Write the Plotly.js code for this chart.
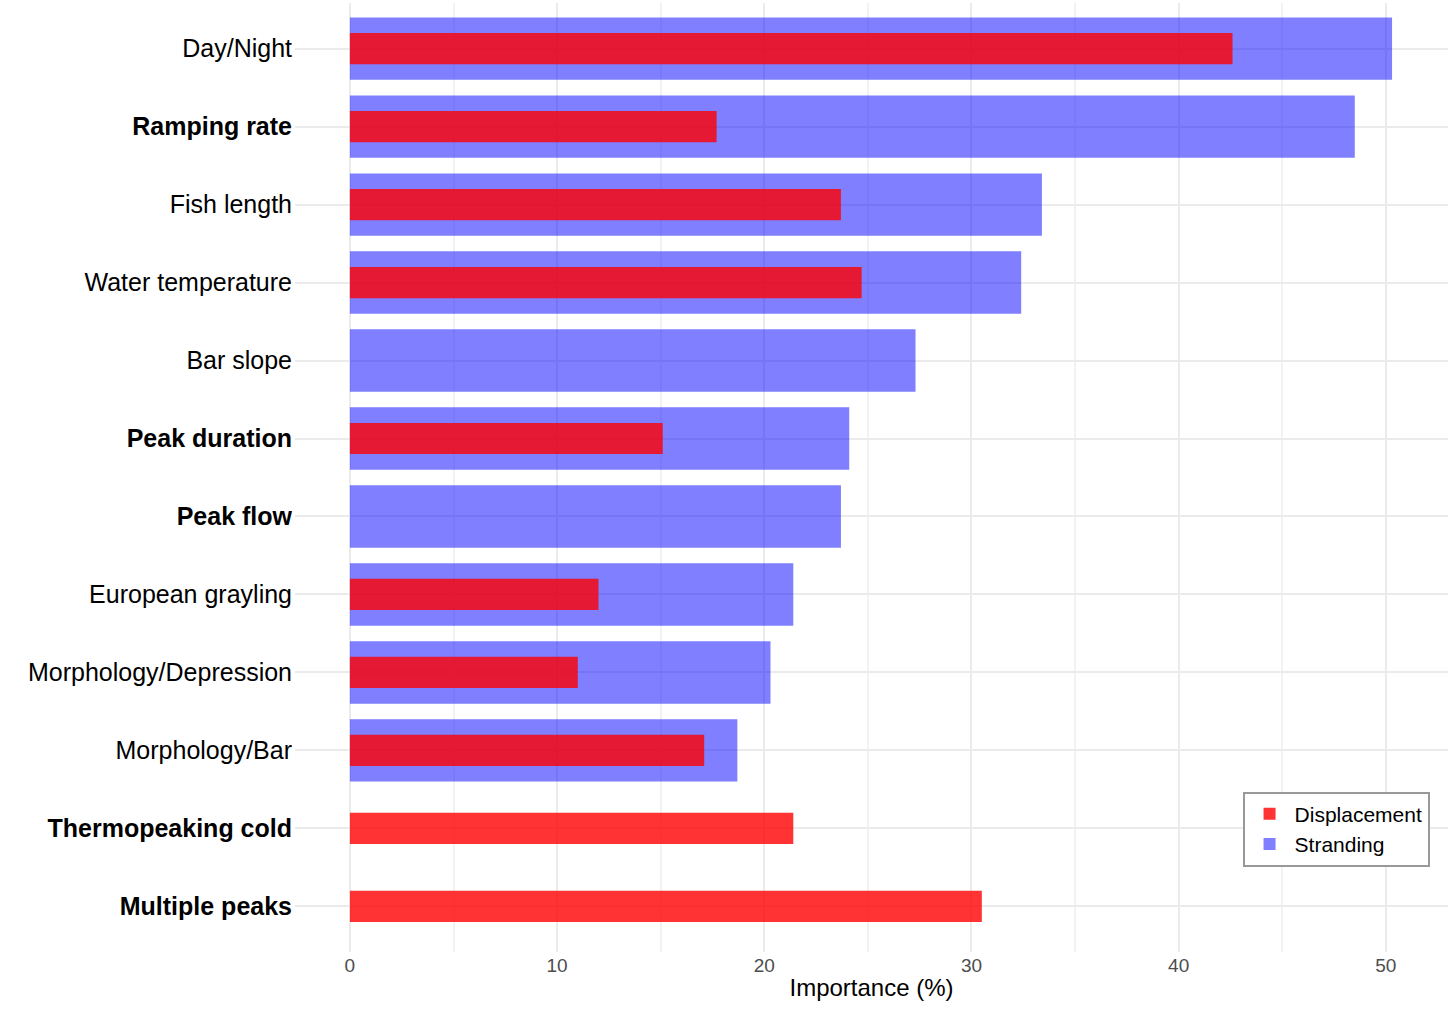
<!DOCTYPE html>
<html><head><script src="https://cdn.plot.ly/plotly-3.0.1.min.js"></script>
<style>body{margin:0}</style></head><body>
<div id="c" style="width:1448px;height:1018px"></div>
<script>
const categories = ["Day/Night","<b>Ramping rate</b>","Fish length","Water temperature","Bar slope","<b>Peak duration</b>","<b>Peak flow</b>","European grayling","Morphology/Depression","Morphology/Bar","<b>Thermopeaking cold</b>","<b>Multiple peaks</b>"];
const stranding = [50.3,48.5,33.4,32.4,27.3,24.1,23.7,21.4,20.3,18.7,0,0];
const displacement = [42.6,17.7,23.7,24.7,0,15.1,0,12.0,11.0,17.1,21.4,30.5];
const xTicks = [0,10,20,30,40,50];
const data = [
 {type:'bar',orientation:'h',name:'Stranding',y:categories,x:stranding,width:0.8,marker:{color:'rgba(0,0,255,0.5)'}},
 {type:'bar',orientation:'h',name:'Displacement',y:categories,x:displacement,width:0.4,marker:{color:'rgba(255,0,0,0.8)'}}
];
const layout = {
 barmode:'overlay', paper_bgcolor:'white', plot_bgcolor:'white',
 margin:{l:295,r:0,t:3,b:66},
 font:{family:'Liberation Sans, Arial, sans-serif',color:'black'},
 xaxis:{range:[-2.65,53],tickvals:xTicks,gridcolor:'#ebebeb',gridwidth:1.5,zeroline:false,
   minor:{dtick:5,tick0:0,gridcolor:'#f2f2f2',showgrid:true},
   tickfont:{size:19,color:'#4d4d4d'},title:{text:'Importance (%)',font:{size:24},standoff:4}},
 yaxis:{categoryorder:'array',categoryarray:categories,range:[11.585,-0.585],
   gridcolor:'#ebebeb',gridwidth:1.5,tickfont:{size:25,color:'black'},ticklen:0,ticks:'',ticklabelstandoff:2},
 legend:{x:0.984,y:0.09,xanchor:'right',yanchor:'bottom',traceorder:'reversed',bordercolor:'#999',borderwidth:2,font:{size:21},bgcolor:'white',itemwidth:40},
 showlegend:true
};
Plotly.newPlot('c',data,layout,{displayModeBar:false});
</script></body></html>
